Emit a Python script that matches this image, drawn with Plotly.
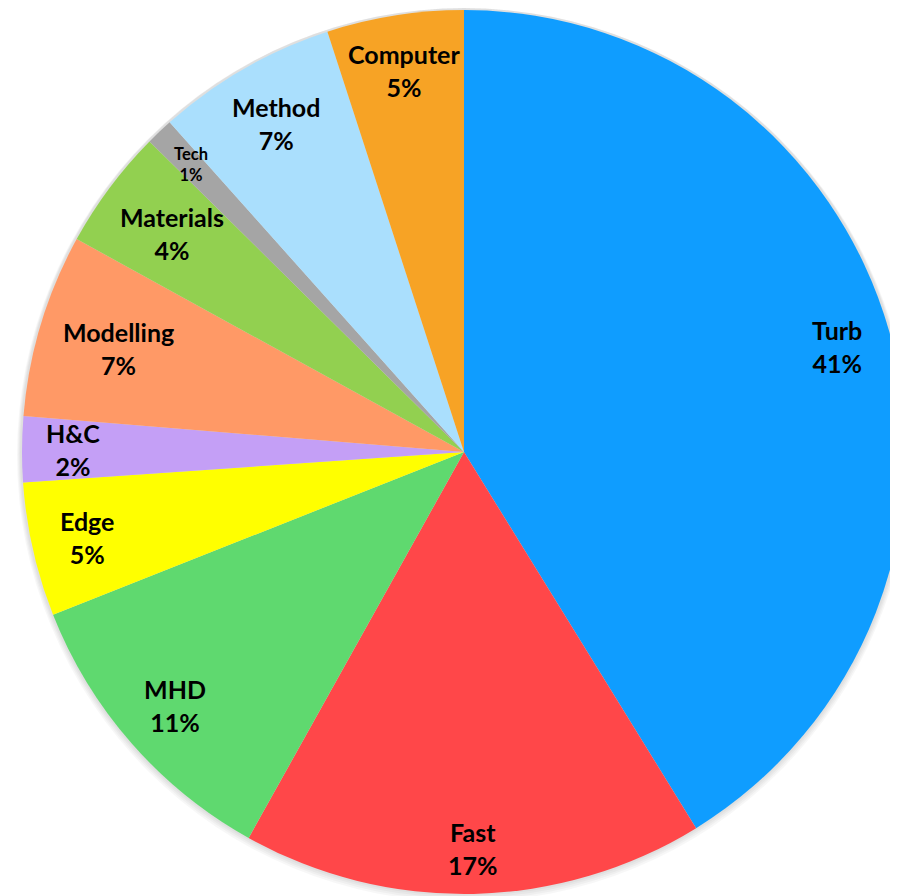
import math
import plotly.graph_objects as go

labels = ["Turb", "Fast", "MHD", "Edge", "H&C", "Modelling", "Materials", "Tech", "Method", "Computer"]
values = [41.2, 16.9, 10.9, 4.9, 2.4, 6.7, 4.4, 1.0, 6.6, 5.0]
colors = ["#0f9dff", "#ff4749", "#5fd96f", "#ffff00", "#c49ff6",
          "#ff9966", "#92d050", "#a5a5a5", "#aadffd", "#f7a325"]
label_sizes = [25, 25, 25, 25, 25, 25, 25, 16.5, 25, 25]

# ---- layout geometry (figure pixels) ----
W, H = 910, 900
CX, CY, R = 456, 444, 442
FONT = "Lato"


def dom(k_side, k_top):
    x0 = (CX - R - k_side) / W
    x1 = (CX + R + k_side) / W
    ytop = CY - R - k_top
    ybot = CY + R + k_side
    return dict(x=[x0, x1], y=[1 - ybot / H, 1 - ytop / H])


fig = go.Figure()

# soft glow / shadow around the pie
for k in [8, 6, 4, 2]:
    fig.add_trace(go.Pie(
        values=[1], labels=["shadow"], sort=False,
        marker=dict(colors=["rgba(0,0,0,0.03)"], line=dict(width=0)),
        textinfo="none", hoverinfo="skip", showlegend=False,
        domain=dom(k, min(k, 2)),
    ))

fig.add_trace(go.Pie(
    labels=labels,
    values=values,
    sort=False,
    direction="clockwise",
    rotation=0,
    marker=dict(colors=colors, line=dict(width=0)),
    textinfo="none",
    showlegend=False,
    hoverinfo="label+percent",
    domain=dom(0, 0),
))

# ---- "inside end" data labels, positioned from the data ----
cw = {"T": .56, "F": .53, "M": .86, "H": .74, "C": .66, "E": .56,
      "u": .55, "r": .39, "b": .56, "a": .50, "s": .42, "t": .36, "e": .52,
      "d": .56, "g": .50, "o": .55, "l": .25, "i": .25, "n": .55, "m": .82,
      "h": .55, "p": .56, "c": .45, "&": .69, "%": .82}


def text_w(s, size):
    return sum(cw.get(ch, .58) for ch in s) * size


total = sum(values)
cum = 0.0
annotations = []
for lab, v, fs in zip(labels, values, label_sizes):
    mid = (cum + v / 2) / total
    cum += v
    pct = f"{round(100 * v / total)}%"
    th = 2 * math.pi * mid
    ux, uy = math.sin(th), -math.cos(th)  # screen coords (y down)
    hw = max(text_w(lab, fs), text_w(pct, fs)) / 2
    hh = 0.8 * fs
    sx = math.copysign(hw, ux)
    sy = math.copysign(hh, uy)
    us = ux * sx + uy * sy
    target = 0.945 * R
    d = -us + math.sqrt(us * us - (sx * sx + sy * sy) + target * target)
    px = CX + d * ux
    py = CY + d * uy
    annotations.append(dict(
        x=px / W, y=1 - py / H, xref="paper", yref="paper",
        text=f"<b>{lab}</b><br><b>{pct}</b>", showarrow=False,
        xanchor="center", yanchor="middle", align="center",
        font=dict(family=FONT, size=fs, color="black"),
    ))

fig.update_layout(
    width=W, height=H,
    margin=dict(l=0, r=0, t=0, b=0),
    paper_bgcolor="white",
    plot_bgcolor="white",
    annotations=annotations,
)

fig.write_html("out.html")
